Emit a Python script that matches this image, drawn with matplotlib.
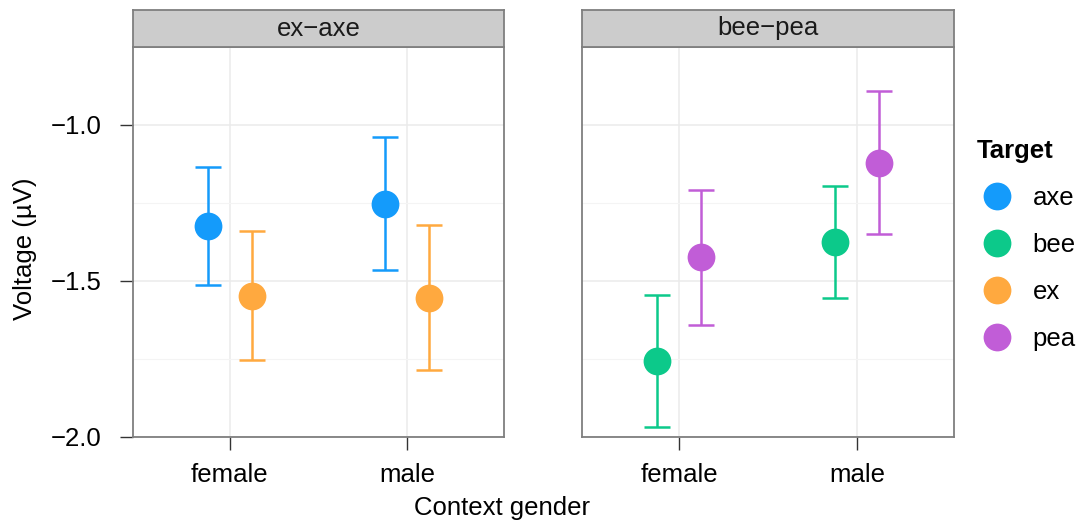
import matplotlib
matplotlib.use("Agg")
import matplotlib.pyplot as plt
from matplotlib.lines import Line2D
import numpy as np

plt.rcParams['font.family'] = ['Liberation Sans', 'DejaVu Sans']

# ---- data ----
contexts = ['female', 'male']
panel_titles = ['ex\u2212axe', 'bee\u2212pea']
panel_targets = [['axe', 'ex'], ['bee', 'pea']]
legend_targets = ['axe', 'bee', 'ex', 'pea']

axe_mean = [-1.323, -1.253]
axe_lo = [-1.513, -1.464]
axe_hi = [-1.136, -1.039]
ex_mean = [-1.548, -1.553]
ex_lo = [-1.753, -1.786]
ex_hi = [-1.339, -1.322]
bee_mean = [-1.756, -1.376]
bee_lo = [-1.968, -1.556]
bee_hi = [-1.545, -1.196]
pea_mean = [-1.423, -1.122]
pea_lo = [-1.640, -1.350]
pea_hi = [-1.207, -0.892]

series = {
    'axe': (axe_mean, axe_lo, axe_hi),
    'ex': (ex_mean, ex_lo, ex_hi),
    'bee': (bee_mean, bee_lo, bee_hi),
    'pea': (pea_mean, pea_lo, pea_hi),
}
colors = {'axe': '#149BFB', 'bee': '#0CC98A', 'ex': '#FFA93F', 'pea': '#C15DD7'}

y_ticks = [-2.0, -1.5, -1.0]
y_minor = [-1.75, -1.25, -0.75]

# ---- layout ----
W, H = 1082, 525
fig = plt.figure(figsize=(W / 100, H / 100), dpi=100)

def rect(x0, y0, x1, y1):
    return [x0 / W, 1 - y1 / H, (x1 - x0) / W, (y1 - y0) / H]

FS = 18.5
border = '#7F7F7F'
panel_x = [(133, 504), (582, 954)]
dodge = 0.125

for i, (px0, px1) in enumerate(panel_x):
    ax = fig.add_axes(rect(px0, 47, px1, 437))
    ax.set_xlim(-0.546, 1.546)
    ax.set_ylim(-2.0, -0.75)
    ax.set_axisbelow(True)
    ax.set_xticks(range(len(contexts)))
    ax.set_xticklabels(contexts, fontsize=FS)
    ax.set_yticks(y_ticks)
    ax.set_yticks(y_minor, minor=True)
    ax.grid(True, which='major', color='#EBEBEB', lw=1.1)
    ax.grid(True, which='minor', axis='y', color='#F4F4F4', lw=0.8)
    ax.tick_params(axis='x', length=9.4, width=1.0, color='#333333', pad=9)
    ax.tick_params(axis='y', which='minor', length=0)
    if i == 0:
        ax.set_yticklabels(['\u22122.0', '\u22121.5', '\u22121.0'], fontsize=FS)
        ax.tick_params(axis='y', which='major', length=9.4, width=1.0, color='#333333', pad=13)
    else:
        ax.tick_params(axis='y', which='major', length=0, labelleft=False)
    for s in ax.spines.values():
        s.set_color(border)
        s.set_linewidth(1.3)
    tgts = panel_targets[i]
    for j, t in enumerate(tgts):
        m, lo, hi = series[t]
        off = -dodge if j == 0 else dodge
        x = np.arange(len(contexts)) + off
        m = np.array(m); lo = np.array(lo); hi = np.array(hi)
        ax.errorbar(x, m, yerr=[m - lo, hi - m], fmt='none', ecolor=colors[t],
                    elinewidth=1.8, capsize=9.6, capthick=1.8, zorder=3)
        ax.plot(x, m, 'o', color=colors[t], markersize=20, markeredgewidth=0, zorder=4)

    sax = fig.add_axes(rect(px0, 10, px1, 47))
    sax.set_facecolor('#CCCCCC')
    sax.set_xticks([]); sax.set_yticks([])
    for s in sax.spines.values():
        s.set_color(border)
        s.set_linewidth(1.3)
    sax.text(0.5, 0.5, panel_titles[i], ha='center', va='center', fontsize=FS,
             color='#1A1A1A', transform=sax.transAxes)

fig.text(25 / W, 1 - 249 / H, 'Voltage (\u00b5V)', rotation=90, ha='center', va='center', fontsize=FS)
fig.text(502 / W, 1 - 515 / H, 'Context gender', ha='center', va='baseline', fontsize=FS)

handles = [Line2D([], [], marker='o', ls='none', color=colors[t], markersize=20, markeredgewidth=0)
           for t in legend_targets]
leg = fig.legend(handles, legend_targets, loc='upper left', bbox_to_anchor=(966 / W, 1 - 129 / H),
                 frameon=False, fontsize=FS, title='Target', alignment='left',
                 title_fontproperties={'weight': 'bold', 'size': FS},
                 labelspacing=0.89, handletextpad=0.6, handlelength=1.6, borderaxespad=0)

fig.savefig('out.png', dpi=100)
